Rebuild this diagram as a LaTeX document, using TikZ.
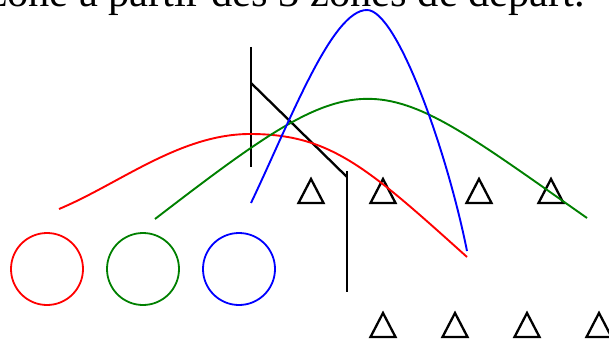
\documentclass[tikz,border=0pt]{standalone}
\usepackage{fontspec}
\setmainfont{Liberation Serif}
\begin{document}
\begin{tikzpicture}[x=1pt,y=-1pt,
  curve/.style={line width=1.9pt,line join=round},
  blackline/.style={line width=2.3pt},
  tri/.style={line width=2.3pt,line join=miter},
  ring/.style={line width=1.8pt}]
\useasboundingbox (0,0) rectangle (609,342);
\clip (0,0) rectangle (609,342);
\node[anchor=base west,inner sep=0pt] (title) at (-12,6.5) {\fontsize{42.5}{50}\selectfont zone à partir des 3 zones de départ.};
% circles
\draw[ring,red] (47,269) circle (36);
\draw[ring,green!50!black] (143,269) circle (36);
\draw[ring,blue] (239,269) circle (36);
% black lines
\draw[blackline] (251,47) -- (251,167);
\draw[blackline] (251,83) -- (347,177);
\draw[blackline] (347,171) -- (347,292);
% triangles
\foreach \x in {311,383,479,551} {
  \draw[tri] (\x-12.5,203) -- (\x,179) -- (\x+12.5,203) -- cycle;
}
\foreach \x in {383,455,527,599} {
  \draw[tri] (\x-12.5,337) -- (\x,313) -- (\x+12.5,337) -- cycle;
}
% curves
\draw[curve,red] (59,209) .. controls (119,184) and (180,134) .. (250,134)
                          .. controls (330,134) and (367,167) .. (467,257);
\draw[curve,green!50!black] (155,219) .. controls (372,52) and (370,66) .. (587,218);
\draw[curve,blue] (251,203) .. controls (291,119) and (332,10) .. (367,10)
                            .. controls (397,10) and (447,151) .. (467,251);
\end{tikzpicture}
\end{document}
